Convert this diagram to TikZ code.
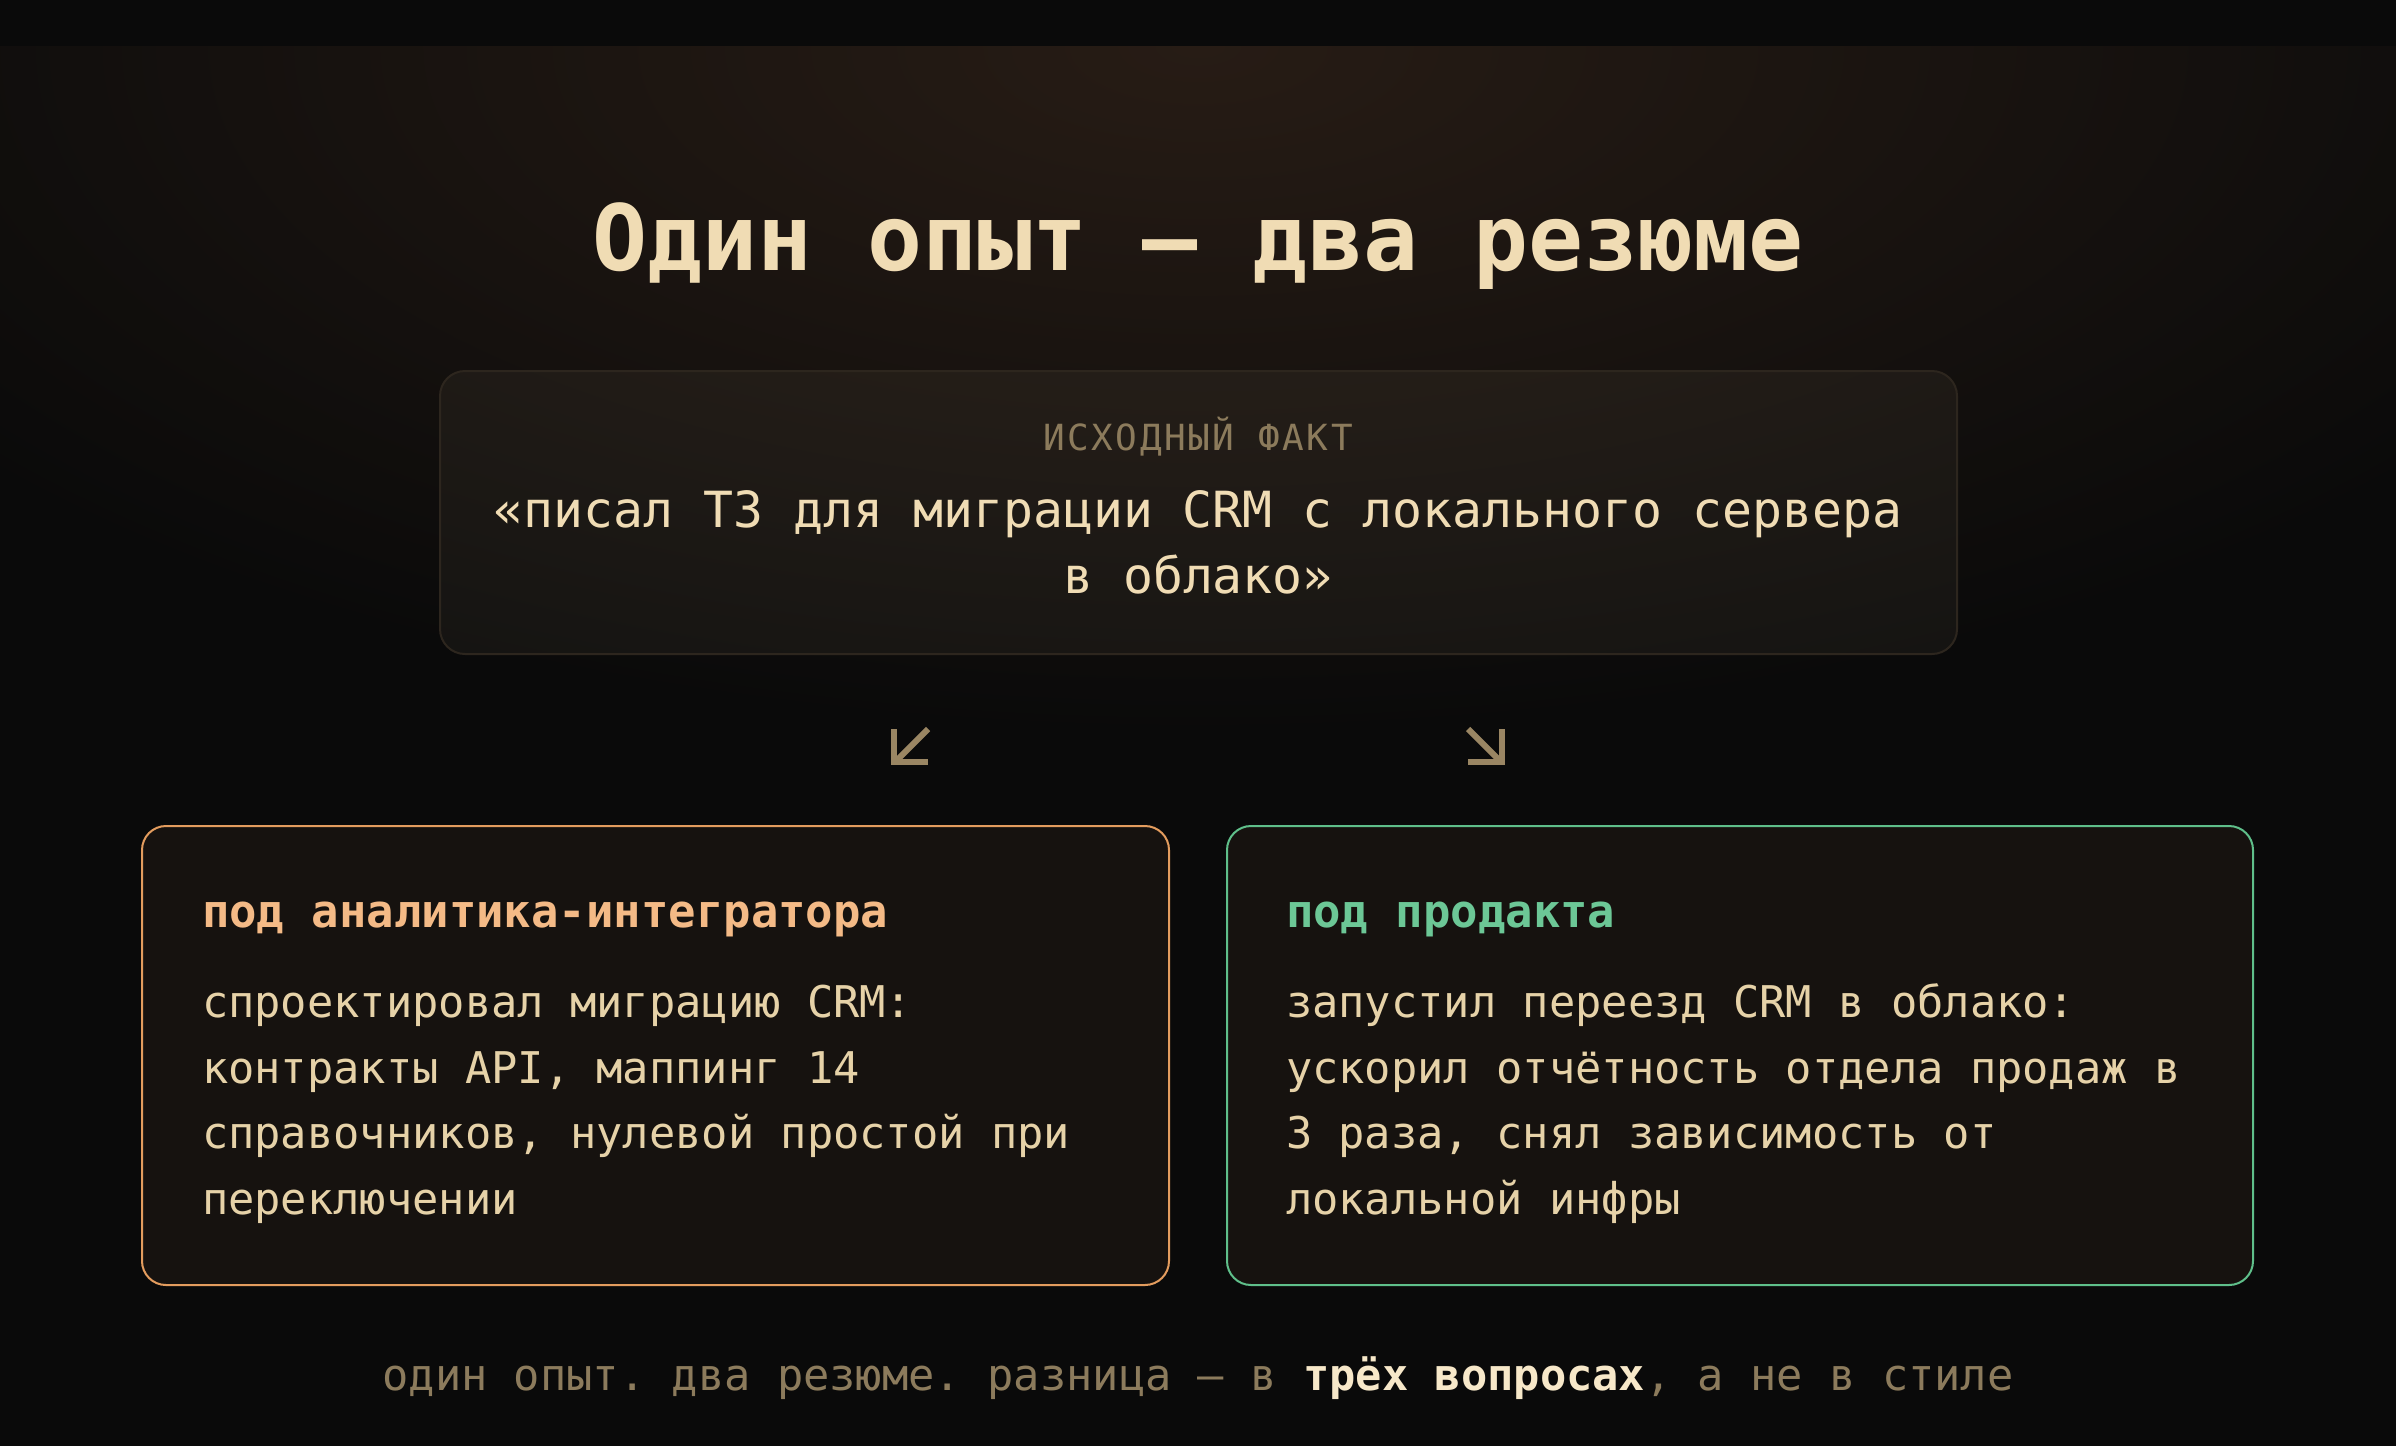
\documentclass[tikz,border=0pt]{standalone}
\usepackage{fontspec}
\setmainfont{DejaVu Sans Mono}
\setmonofont{DejaVu Sans Mono}
\newfontfamily\lblfont[LetterSpace=7]{DejaVu Sans Mono}
\definecolor{bg}{HTML}{0A0A0A}
\definecolor{glow}{HTML}{271C15}
\definecolor{cream}{HTML}{F0DCB4}
\definecolor{bodytxt}{HTML}{E6D2A8}
\definecolor{muted}{HTML}{8C7B5C}
\definecolor{factline}{HTML}{2D261E}
\definecolor{cardfill}{HTML}{16120F}
\definecolor{orangeb}{HTML}{E39C5E}
\definecolor{orangeh}{HTML}{F4BA86}
\definecolor{greenb}{HTML}{5FBF8A}
\definecolor{greenh}{HTML}{6CC796}
\definecolor{arrowcol}{HTML}{9A8663}
\definecolor{hilite}{HTML}{F7E8C9}
\frenchspacing
\begin{document}
\begin{tikzpicture}[x=0.5pt,y=-0.5pt,
  txt/.style={inner sep=0pt, outer sep=0pt},
  bodyline/.style={txt, anchor=base west, text=bodytxt, font=\fontsize{21.85}{26}\selectfont},
  headline/.style={txt, anchor=base west, font=\fontsize{22.8}{27}\selectfont\bfseries},
  card/.style={draw, line width=1pt, fill=cardfill, rounded corners=12pt},
  arrowstroke/.style={draw=arrowcol, line width=3pt, line cap=butt, line join=miter}]
% background
\fill[bg] (0,0) rectangle (2396,1446);
\useasboundingbox (0,0) rectangle (2396,1446);
\begin{scope}
  \clip (0,46) rectangle (2396,1446);
  \shade[inner color=glow, outer color=bg] (1198,46) ellipse (1550 and 690);
\end{scope}
% title
\node[txt, anchor=base, text=cream, font=\fontsize{45.7}{55}\selectfont\bfseries] (title) at (1198,270) {Один опыт — два резюме};
% fact box
\draw[draw=factline, line width=1pt, fill=cream, fill opacity=0.05, rounded corners=12.5pt] (440,371) rectangle (1957,654);
\node[txt, anchor=base, text=muted, font=\lblfont\fontsize{18}{22}\selectfont] (factlabel) at (1198,450) {ИСХОДНЫЙ ФАКТ};
\node[txt, anchor=base, text=cream, font=\fontsize{24.9}{33}\selectfont] (fact1) at (1198,527) {«писал ТЗ для миграции CRM с локального сервера};
\node[txt, anchor=base, text=cream, font=\fontsize{24.9}{33}\selectfont] (fact2) at (1198,593) {в облако»};
% arrows
\coordinate (la) at (928,729);
\coordinate (lb) at (895,762);
\coordinate (lc) at (894,729);
\coordinate (ld) at (894,762);
\coordinate (le) at (928,762);
\draw[arrowstroke] (la) -- (lb);
\draw[arrowstroke] (lc) -- (ld) -- (le);
\coordinate (ra) at (1468,729);
\coordinate (rb) at (1501,762);
\coordinate (rc) at (1502,729);
\coordinate (rd) at (1502,762);
\coordinate (re) at (1468,762);
\draw[arrowstroke] (ra) -- (rb);
\draw[arrowstroke] (rc) -- (rd) -- (re);
% left card
\draw[card, draw=orangeb] (142,826) rectangle (1169,1285);
\node[headline, text=orangeh] (lhead) at (202,927) {под аналитика-интегратора};
\node[bodyline] (l1) at (202,1017) {спроектировал миграцию CRM:};
\node[bodyline] (l2) at (202,1083) {контракты API, маппинг 14};
\node[bodyline] (l3) at (202,1148) {справочников, нулевой простой при};
\node[bodyline] (l4) at (202,1214) {переключении};
% right card
\draw[card, draw=greenb] (1227,826) rectangle (2253,1285);
\node[headline, text=greenh] (rhead) at (1286,927) {под продакта};
\node[bodyline] (r1) at (1286,1017) {запустил переезд CRM в облако:};
\node[bodyline] (r2) at (1286,1083) {ускорил отчётность отдела продаж в};
\node[bodyline] (r3) at (1286,1148) {3 раза, снял зависимость от};
\node[bodyline] (r4) at (1286,1214) {локальной инфры};
% footer
\node[txt, anchor=base, text=muted, font=\fontsize{21.85}{26}\selectfont] (footer) at (1198,1390) {один опыт. два резюме. разница — в {\bfseries\color{hilite}трёх вопросах}, а не в стиле};
\end{tikzpicture}
\end{document}
